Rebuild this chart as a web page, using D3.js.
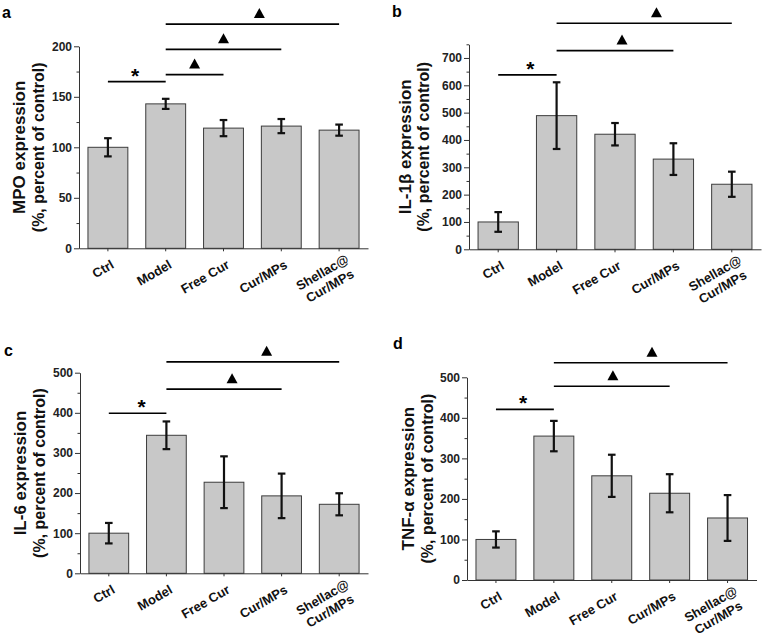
<!DOCTYPE html>
<html>
<head>
<meta charset="utf-8">
<script src="https://cdn.jsdelivr.net/npm/d3@7"></script>
<style>
  html, body { margin: 0; padding: 0; background: #fff; }
  svg { display: block; font-family: Arial, "Liberation Sans", Helvetica, sans-serif; }
</style>
</head>
<body>
<svg id="chart" width="779" height="639"></svg>
<script>
// ---------- DATA ----------
const categories = ["Ctrl", "Model", "Free Cur", "Cur/MPs", "Shellac@\nCur/MPs"];

const mpoMean  = [100, 143, 119, 121, 117];
const mpoErr   = [9, 5, 8, 7, 5.5];
const il1bMean = [100, 489, 421, 330, 238];
const il1bErr  = [36, 122, 41, 58, 46];
const il6Mean  = [100, 344, 227, 193, 172];
const il6Err   = [25.5, 34.5, 64.5, 55.5, 27.5];
const tnfMean  = [100, 355, 257, 214, 153];
const tnfErr   = [20, 37.5, 52, 47, 56.5];

const mpoTicks  = [0, 50, 100, 150, 200];
const il1bTicks = [0, 100, 200, 300, 400, 500, 600, 700];
const il6Ticks  = [0, 100, 200, 300, 400, 500];
const tnfTicks  = [0, 100, 200, 300, 400, 500];

// significance brackets: [from, to, level (data units), mark, mark position along line]
const mpoSig  = [["Ctrl", "Model", 165, "*", 0.47], ["Model", "Free Cur", 172, "▲", 0.5],
                 ["Model", "Cur/MPs", 197, "▲", 0.5], ["Model", "Shellac@\nCur/MPs", 222, "▲", 0.54]];
const il1bSig = [["Ctrl", "Model", 638, "*", 0.55], ["Model", "Cur/MPs", 727, "▲", 0.56],
                 ["Model", "Shellac@\nCur/MPs", 827, "▲", 0.57]];
const il6Sig  = [["Ctrl", "Model", 399, "*", 0.57], ["Model", "Cur/MPs", 459, "▲", 0.57],
                 ["Model", "Shellac@\nCur/MPs", 527, "▲", 0.58]];
const tnfSig  = [["Ctrl", "Model", 421, "*", 0.47], ["Model", "Cur/MPs", 478, "▲", 0.51],
                 ["Model", "Shellac@\nCur/MPs", 536, "▲", 0.565]];

// ---------- LAYOUT ----------
const panels = [
  { letter: "a", lx: 2, ly: 18, x0: 79, x1: 368, y0: 248.3, y1: 46.3, ymax: 200, minorStep: 25,
    means: mpoMean, errs: mpoErr, ticks: mpoTicks, sig: mpoSig,
    title: "MPO expression", t1: 25, t2: 44 },
  { letter: "b", lx: 392, ly: 17, x0: 469, x1: 761, y0: 249.3, y1: 44.3, ymax: 750, minorStep: 50,
    means: il1bMean, errs: il1bErr, ticks: il1bTicks, sig: il1bSig,
    title: "IL-1β expression", t1: 411, t2: 429 },
  { letter: "c", lx: 4, ly: 356, x0: 80, x1: 368, y0: 573.3, y1: 372.7, ymax: 500, minorStep: 50,
    means: il6Mean, errs: il6Err, ticks: il6Ticks, sig: il6Sig,
    title: "IL-6 expression", t1: 26, t2: 45 },
  { letter: "d", lx: 393, ly: 349, x0: 467, x1: 756.5, y0: 580, y1: 377.3, ymax: 500, minorStep: 50,
    means: tnfMean, errs: tnfErr, ticks: tnfTicks, sig: tnfSig,
    title: "TNF-α expression", t1: 414, t2: 433 }
];

const svg = d3.select("#chart");
svg.append("rect").attr("width", 779).attr("height", 639).attr("fill", "#fff");

const axisColor = "#333";

panels.forEach(p => {
  const g = svg.append("g");
  const x = d3.scaleBand().domain(categories).range([p.x0, p.x1]).paddingInner(0.31).paddingOuter(0.155);
  const y = d3.scaleLinear().domain([0, p.ymax]).range([p.y0, p.y1]);
  const yTop = y(p.ymax);

  // bars
  g.selectAll("rect.bar").data(categories).join("rect")
    .attr("class", "bar")
    .attr("x", d => x(d))
    .attr("width", x.bandwidth())
    .attr("y", (d, i) => y(p.means[i]))
    .attr("height", (d, i) => y(0) - y(p.means[i]))
    .attr("fill", "#c8c8c8")
    .attr("stroke", "#3c3c3c")
    .attr("stroke-width", 1);

  // error bars
  const cap = 3.8;
  categories.forEach((c, i) => {
    const cx = x(c) + x.bandwidth() / 2;
    const hi = y(p.means[i] + p.errs[i]), lo = y(p.means[i] - p.errs[i]);
    g.append("line").attr("x1", cx).attr("x2", cx).attr("y1", hi).attr("y2", lo)
      .attr("stroke", "#111").attr("stroke-width", 2.2);
    [hi, lo].forEach(yy => g.append("line").attr("x1", cx - cap).attr("x2", cx + cap)
      .attr("y1", yy).attr("y2", yy).attr("stroke", "#111").attr("stroke-width", 2.2));
  });

  // y axis (minor ticks)
  const minor = d3.range(0, p.ymax + 0.001, p.minorStep).filter(v => !p.ticks.includes(v));
  const yMinor = d3.axisLeft(y).tickValues(minor).tickSize(2.5).tickFormat("");
  const gm = g.append("g").attr("transform", `translate(${p.x0},0)`).call(yMinor);
  gm.select(".domain").remove();
  gm.selectAll("line").attr("stroke", axisColor);

  const yAxis = d3.axisLeft(y).tickValues(p.ticks).tickSize(5).tickPadding(2).tickSizeOuter(0);
  const gy = g.append("g").attr("transform", `translate(${p.x0},0)`).call(yAxis);
  gy.select(".domain").attr("stroke", axisColor);
  gy.selectAll(".tick line").attr("stroke", axisColor);
  gy.selectAll(".tick text").attr("font-size", "12px").attr("font-weight", "bold")
    .attr("fill", "#222").attr("font-family", "Arial, 'Liberation Sans', sans-serif");

  // x axis
  const xAxis = d3.axisBottom(x).tickSize(3).tickSizeOuter(0).tickFormat("");
  const gx = g.append("g").attr("transform", `translate(0,${p.y0})`).call(xAxis);
  gx.select(".domain").attr("stroke", axisColor);
  gx.selectAll(".tick line").attr("stroke", axisColor);

  // x labels, rotated
  categories.forEach(c => {
    const cx = x(c) + x.bandwidth() / 2;
    const lines = c.split("\n");
    const t = g.append("text")
      .attr("transform", `translate(${cx + 7},${p.y0 + 19}) rotate(-30)`)
      .attr("text-anchor", "end")
      .attr("font-size", "13px").attr("font-weight", "bold").attr("fill", "#111");
    if (lines.length === 1) {
      t.text(c);
    } else {
      t.append("tspan").attr("x", 6).attr("y", -3).text(lines[0]);
      t.append("tspan").attr("x", 3).attr("y", 12.5).text(lines[1]);
    }
  });

  // y title
  const cyTitle = (p.y0 + yTop) / 2;
  [[p.title, p.t1, "17px"], ["(%, percent of control)", p.t2, "16px"]].forEach(([txt, bx, fs]) => {
    g.append("text")
      .attr("transform", `translate(${bx},${cyTitle}) rotate(-90)`)
      .attr("text-anchor", "middle")
      .attr("font-size", fs).attr("font-weight", "bold").attr("fill", "#111")
      .text(txt);
  });

  // panel letter
  g.append("text").attr("x", p.lx).attr("y", p.ly)
    .attr("font-size", "16px").attr("font-weight", "bold").attr("fill", "#000")
    .text(p.letter);

  // significance brackets
  p.sig.forEach(([from, to, level, mark, pos]) => {
    const xa = x(from) + x.bandwidth() / 2;
    const xb = x(to) + x.bandwidth() / 2;
    const ly = y(level);
    g.append("line").attr("x1", xa).attr("x2", xb).attr("y1", ly).attr("y2", ly)
      .attr("stroke", "#000").attr("stroke-width", 1.6);
    const mx = xa + (xb - xa) * pos;
    if (mark === "*") {
      g.append("text").attr("x", mx).attr("y", ly + 1).attr("text-anchor", "middle")
        .attr("font-size", "21px").attr("font-weight", "bold").attr("fill", "#000").text("*");
    } else {
      const w = 11, h = 10, base = ly - 6;
      g.append("path")
        .attr("d", `M${mx - w / 2},${base} L${mx + w / 2},${base} L${mx},${base - h} Z`)
        .attr("fill", "#000");
    }
  });
});
</script>
</body>
</html>
